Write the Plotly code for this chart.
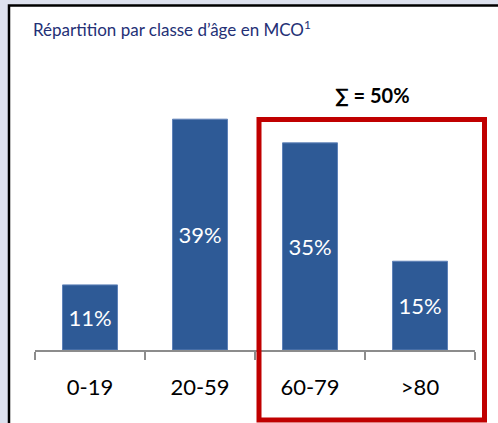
import plotly.graph_objects as go

age_groups = ["0-19", "20-59", "60-79", ">80"]
shares = [11, 39, 35, 15]
share_labels = ["11%", "39%", "35%", "15%"]
sum_label = "∑ = 50%"
title_text = "Répartition par classe d’âge en MCO<sup>1</sup>"

FONT = "Lato, 'Open Sans', sans-serif"

fig = go.Figure()
fig.add_trace(
    go.Bar(
        x=age_groups, y=shares, text=share_labels,
        textposition="inside", insidetextanchor="middle", constraintext="none",
        textfont={"color": "white", "size": 22, "family": FONT},
        marker={"color": "#2E5A96", "line": {"color": "#5F82B8", "width": 1}},
        hoverinfo="skip",
    )
)

fig.update_layout(
    width=498, height=423,
    margin={"l": 35, "r": 23, "t": 60, "b": 73},
    paper_bgcolor="#DDE1EE", plot_bgcolor="rgba(0,0,0,0)",
    showlegend=False, bargap=0.5,
    title={
        "text": title_text, "x": 33 / 498, "xanchor": "left",
        "y": 1 - 30 / 423, "yanchor": "middle",
        "font": {"family": FONT, "size": 17, "color": "#243076"},
    },
    shapes=[
        # white panel with black border (right and bottom fall off-canvas)
        {"type": "rect", "xref": "paper", "yref": "paper", "layer": "below",
         "x0": -26 / 440, "x1": 1.12, "y0": -0.35, "y1": 344.5 / 290,
         "fillcolor": "white", "line": {"color": "black", "width": 2.5}},
        # red highlight box
        {"type": "rect", "xref": "paper", "yref": "paper",
         "x0": 224 / 440, "x1": 449.5 / 440, "y0": -70 / 290, "y1": 230.5 / 290,
         "line": {"color": "#C00000", "width": 5}},
    ],
    annotations=[
        {"text": f"<b>{sum_label}</b>", "xref": "paper", "yref": "paper",
         "x": 337 / 440, "y": 255 / 290, "yanchor": "middle", "xanchor": "center",
         "showarrow": False,
         "font": {"family": FONT, "size": 20, "color": "black"}},
    ],
)
fig.update_xaxes(
    range=[-0.5, 3.5], showline=True, linecolor="#8C8C8C", linewidth=1.5,
    ticks="outside", tickson="boundaries", ticklen=8, tickcolor="#8C8C8C",
    tickwidth=1.5, ticklabelstandoff=17,
    tickfont={"family": FONT, "size": 22, "color": "black"}, showgrid=False,
)
fig.update_yaxes(range=[0, 49], visible=False)

fig.write_html(
    "out.html",
    config={"displayModeBar": False},
    post_script="document.body.style.margin='0';",
)
